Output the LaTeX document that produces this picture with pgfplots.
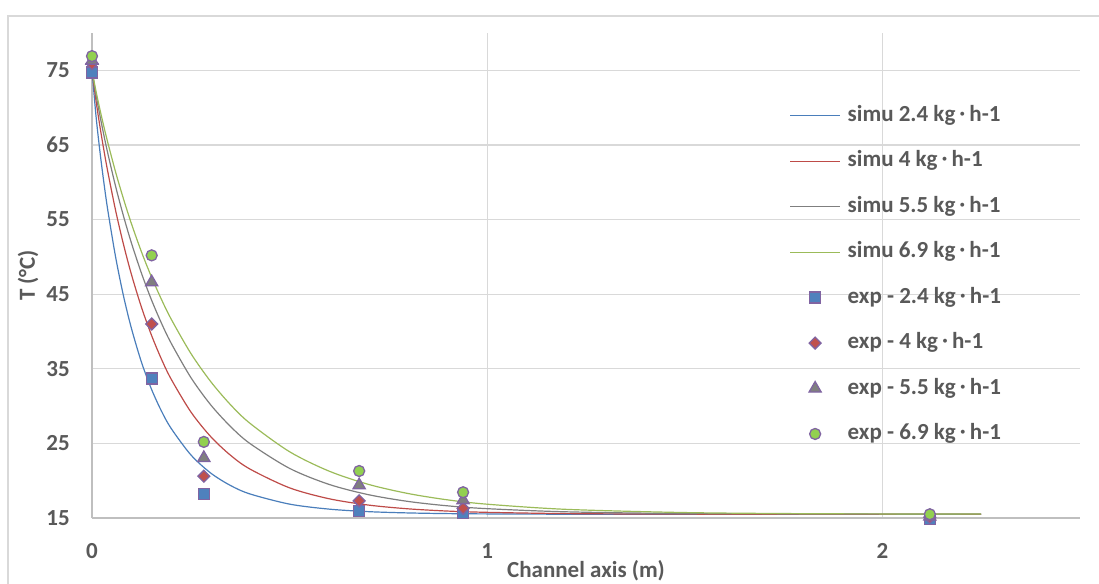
\documentclass[border=0pt]{standalone}
\usepackage{fontspec}
\setmainfont{Carlito}
\newfontfamily\cjk{Noto Sans CJK JP}
\usepackage{pgfplots}
\pgfplotsset{compat=1.18}

\definecolor{txt}{HTML}{595959}
\definecolor{gridc}{HTML}{D9D9D9}
\definecolor{axc}{HTML}{BFBFBF}
\definecolor{c1}{HTML}{4A7EBB}
\definecolor{c2}{HTML}{BE4B48}
\definecolor{c3}{HTML}{7F7F7F}
\definecolor{c4}{HTML}{9BBB59}
\definecolor{m1}{HTML}{4F81BD}
\definecolor{m2}{HTML}{C0504D}
\definecolor{m3}{HTML}{7F7F7F}
\definecolor{m4}{HTML}{92D050}
\definecolor{mline}{HTML}{8064A2}

\newcommand{\kgh}{kg{\cjk\bfseries\fontsize{14}{14}\selectfont\raisebox{2pt}{・}}h-1}
\newcommand{\chartfont}{\fontsize{23}{27}\selectfont\bfseries}

\pgfplotsset{
  lineleg/.style={legend image code/.code={\draw[##1] (0pt,0pt) -- (50pt,0pt);}},
  markleg/.style={legend image code/.code={\draw[mark repeat=2,mark phase=2,##1] plot coordinates {(0pt,0pt) (25pt,0pt) (50pt,0pt)};}},
  expmark/.style={only marks, mark size=#1, markleg},
}

\begin{document}
\begin{tikzpicture}[font=\chartfont, text=txt]
\useasboundingbox (0pt,0pt) rectangle (1099pt,-583pt);
\draw[gridc, line width=1.5pt] (8pt,-600pt) -- (8pt,-16pt) -- (1120pt,-16pt);
\begin{axis}[
  at={(92pt,-518pt)}, anchor=south west,
  scale only axis, width=988pt, height=485pt,
  xmin=0, xmax=2.5, ymin=15, ymax=80,
  xtick={0,1,2}, ytick={15,25,...,75},
  grid=major, grid style={gridc, line width=1.2pt},
  axis x line*=bottom, axis y line*=left,
  axis line style={axc, line width=1.3pt},
  major tick length=0pt,
  clip=false,
  tick label style={font=\chartfont, text=txt, /pgf/number format/assume math mode=true},
  yticklabel style={anchor=east, inner sep=0pt, xshift=-22pt},
  xticklabel style={anchor=north, inner sep=0pt, yshift=-25pt},
  xlabel={Channel axis (m)}, ylabel={T (°C)},
  label style={font=\chartfont, text=txt},
  xlabel style={at={(axis description cs:0.5,0)}, anchor=north, inner sep=0pt, yshift=-42.5pt},
  ylabel style={at={(axis description cs:-0.0577,0.5)}, anchor=base, inner sep=0pt},
  legend cell align=left,
  legend style={at={(axis cs:1.765,70.31)}, anchor=north west, draw=none, fill=none,
    inner sep=0pt, outer sep=0pt, row sep=24.45pt, column sep=7pt, font=\chartfont, text=txt,
    nodes={inner sep=0pt, text height=16pt, text depth=5pt}},
]
% simulation curves
\addplot[c1, line width=1.2pt, smooth, lineleg] coordinates {
 (0,75) (0.01,68.95) (0.02,64.15) (0.03,59.97) (0.04,56.24) (0.06,49.90)
 (0.08,44.69) (0.10,40.37) (0.125,35.91) (0.15,32.33) (0.175,29.41) (0.2,27.03)
 (0.25,23.47) (0.3,21.04) (0.35,19.37) (0.4,18.22) (0.5,16.86) (0.6,16.19)
 (0.7,15.85) (0.8,15.68) (0.9,15.59) (1.0,15.55) (1.2,15.51) (1.5,15.5)
 (2.0,15.5) (2.25,15.5)};
\addplot[c2, line width=1.2pt, smooth, lineleg] coordinates {
 (0,75) (0.01,70.98) (0.02,67.5) (0.03,64.33) (0.04,61.4) (0.06,56.15)
 (0.08,51.6) (0.10,47.6) (0.125,43.27) (0.15,39.57) (0.175,36.38) (0.2,33.64)
 (0.25,29.23) (0.3,25.93) (0.35,23.43) (0.4,21.55) (0.5,19.04) (0.6,17.58)
 (0.7,16.73) (0.8,16.23) (0.9,15.93) (1.0,15.76) (1.2,15.59) (1.5,15.52)
 (2.0,15.5) (2.25,15.5)};
\addplot[c3, line width=1.2pt, smooth, lineleg] coordinates {
 (0,75) (0.01,71.78) (0.02,68.95) (0.03,66.32) (0.04,63.87) (0.06,59.39)
 (0.08,55.41) (0.10,51.82) (0.125,47.83) (0.15,44.30) (0.175,41.20) (0.2,38.46)
 (0.25,33.84) (0.3,30.19) (0.35,27.29) (0.4,24.97) (0.5,21.65) (0.6,19.5)
 (0.7,18.12) (0.8,17.22) (0.9,16.63) (1.0,16.25) (1.2,15.83) (1.5,15.6)
 (2.0,15.52) (2.25,15.52)};
\addplot[c4, line width=1.2pt, smooth, lineleg] coordinates {
 (0,75) (0.01,72.23) (0.02,69.77) (0.03,67.47) (0.04,65.31) (0.06,61.31)
 (0.08,57.71) (0.10,54.41) (0.125,50.69) (0.15,47.37) (0.175,44.38) (0.2,41.69)
 (0.25,37.07) (0.3,33.31) (0.35,30.21) (0.4,27.68) (0.5,23.88) (0.6,21.28)
 (0.7,19.5) (0.8,18.28) (0.9,17.43) (1.0,16.85) (1.2,16.16) (1.5,15.73)
 (1.8,15.58) (2.0,15.55) (2.25,15.55)};
% experimental points
\addplot[expmark=5.5pt, mark=square*, mark options={fill=m1, draw=mline, line width=1.3pt}] coordinates {
 (0,74.7) (0.151,33.7) (0.283,18.2) (0.676,15.9) (0.939,15.7) (2.12,14.9)};
\addplot[expmark=4.2pt, mark=square*, mark options={rotate=45, fill=m2, draw=mline, line width=1.3pt}] coordinates {
 (0,75.9) (0.151,41.0) (0.283,20.6) (0.676,17.3) (0.939,16.3) (2.12,15.1)};
\addplot[expmark=7pt, mark=triangle*, mark options={fill=m3, draw=mline, line width=1.3pt}] coordinates {
 (0,76.3) (0.151,46.6) (0.283,23.05) (0.676,19.4) (0.939,17.4) (2.12,15.2)};
\addplot[expmark=5.5pt, mark=*, mark options={fill=m4, draw=mline, line width=1.3pt}] coordinates {
 (0,76.9) (0.151,50.2) (0.283,25.2) (0.676,21.3) (0.939,18.45) (2.12,15.5)};
\legend{simu 2.4 \kgh, simu 4 \kgh, simu 5.5 \kgh, simu 6.9 \kgh,
  exp - 2.4 \kgh, exp - 4 \kgh, exp - 5.5 \kgh, exp - 6.9 \kgh}
\end{axis}
\end{tikzpicture}
\end{document}
